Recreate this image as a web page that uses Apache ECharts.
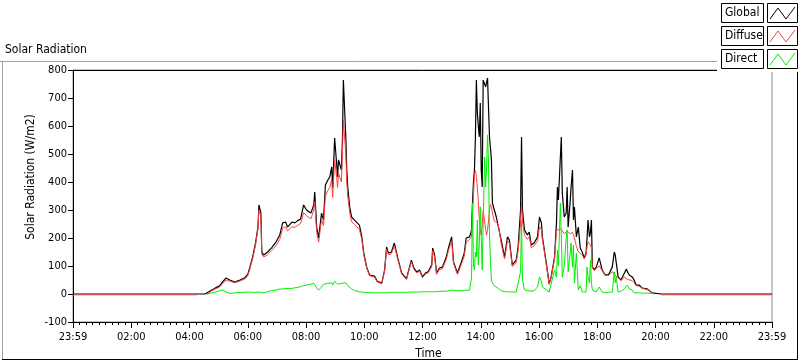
<!DOCTYPE html>
<html><head><meta charset="utf-8">
<script src="https://cdn.jsdelivr.net/npm/echarts@6/dist/echarts.min.js"></script>
<style>html,body{margin:0;padding:0;background:#fff}#c{width:800px;height:361px}</style>
</head><body><div id="c"></div>
<script>
const times = ["00:00","04:15","04:32","04:36","04:44","04:52","05:02","05:09","05:15","05:23","05:33","05:44","05:54","06:00","06:04","06:10","06:16","06:21","06:23","06:27","06:29","06:33","06:41","06:49","06:58","07:06","07:12","07:18","07:22","07:31","07:37","07:43","07:49","07:55","08:01","08:10","08:16","08:18","08:22","08:26","08:32","08:36","08:40","08:45","08:49","08:53","08:55","08:59","09:03","09:05","09:07","09:13","09:15","09:17","09:22","09:24","09:26","09:30","09:34","09:40","09:44","09:50","09:55","09:59","10:05","10:11","10:21","10:27","10:36","10:42","10:46","10:50","10:56","11:02","11:09","11:17","11:27","11:31","11:37","11:42","11:48","11:54","12:00","12:06","12:12","12:19","12:21","12:25","12:29","12:35","12:41","12:49","12:54","13:00","13:04","13:12","13:20","13:26","13:30","13:37","13:39","13:41","13:43","13:45","13:47","13:49","13:51","13:53","13:55","13:57","13:59","14:01","14:03","14:05","14:08","14:10","14:12","14:14","14:16","14:18","14:20","14:22","14:24","14:28","14:32","14:36","14:42","14:49","14:55","14:59","15:05","15:13","15:17","15:22","15:24","15:26","15:30","15:36","15:40","15:44","15:50","15:57","16:01","16:05","16:07","16:15","16:21","16:25","16:32","16:36","16:38","16:40","16:44","16:46","16:48","16:52","16:54","16:56","16:58","17:00","17:04","17:06","17:09","17:11","17:13","17:17","17:21","17:25","17:29","17:33","17:37","17:39","17:41","17:44","17:46","17:48","17:50","17:54","17:58","18:04","18:08","18:10","18:16","18:23","18:31","18:35","18:37","18:39","18:43","18:49","18:56","19:00","19:02","19:06","19:12","19:16","19:20","19:26","19:33","19:43","19:53","19:57","20:12","24:00"];
const globalVals = [0,0,0,2,12,20,29,45,57,50,43,50,58,70,93,132,182,239,318,289,150,139,150,165,185,211,254,257,239,257,254,262,268,318,300,289,318,364,239,200,289,264,389,407,418,454,379,557,468,418,479,443,550,764,561,443,382,311,275,264,271,246,204,146,96,68,64,45,39,86,168,146,150,182,129,75,54,61,121,93,79,86,61,75,80,104,164,139,75,93,96,132,168,204,114,75,114,146,200,204,215,229,325,400,443,560,764,646,600,561,682,443,382,764,757,740,746,771,764,561,520,479,325,300,275,275,193,132,204,193,104,121,168,300,561,300,229,211,221,175,182,204,275,254,204,111,36,61,132,254,382,336,489,561,361,275,280,289,382,239,325,380,443,264,311,204,239,164,150,129,146,200,264,204,220,264,96,86,96,129,136,86,68,68,96,150,140,146,61,50,75,89,80,68,61,50,32,32,21,18,4,0,0,0];
const diffuseVals = [-3,-3,null,0,10,17,25,38,50,46,40,46,54,65,88,125,175,232,300,280,140,132,140,155,172,195,235,240,225,240,238,245,252,290,280,268,300,330,220,185,265,245,350,370,380,410,345,480,420,380,430,400,500,620,500,400,350,290,258,248,252,230,195,140,92,65,61,43,37,82,160,140,144,172,124,72,52,58,115,89,75,82,58,71,76,98,155,132,70,88,90,124,158,190,108,70,105,135,185,195,200,205,290,350,430,440,420,380,330,270,230,210,250,300,260,230,210,230,260,300,320,310,290,260,255,250,180,125,190,182,98,112,155,250,325,260,210,195,205,165,172,190,240,230,195,105,34,58,125,225,229,229,235,230,225,215,215,220,225,220,215,215,220,210,200,170,150,145,140,125,140,170,186,180,175,165,92,84,92,100,96,84,66,66,80,70,68,66,58,48,60,55,52,50,48,40,30,28,20,16,4,null,-3,-3];
const directVals = [null,null,null,0,3,6,12,14,8,2,4,6,6,7,6,6,6,7,7,6,5,4,8,12,14,18,18,20,18,20,22,24,26,30,32,35,38,40,22,14,25,35,42,38,44,40,32,45,40,35,42,38,45,42,40,38,30,25,18,12,10,8,7,6,5,5,4,4,4,4,5,5,6,6,6,6,6,6,7,7,7,7,8,8,8,8,8,8,9,9,10,10,12,14,14,12,12,13,14,14,40,57,325,100,86,150,132,264,104,180,311,204,86,250,489,382,450,568,468,204,120,50,40,30,25,20,12,8,8,7,7,7,10,80,264,50,15,12,14,10,12,25,61,45,25,15,7,7,86,60,157,100,325,204,60,100,146,200,229,80,140,182,96,175,39,146,14,30,7,7,7,96,60,39,121,40,14,7,7,25,20,7,6,6,7,79,40,61,7,10,18,25,32,18,15,4,4,4,3,3,2,0,null,null];
const xTickLabels = ["23:59","02:00","04:00","06:00","08:00","10:00","12:00","14:00","16:00","18:00","20:00","22:00","23:59"];
const seriesNames = ["Global","Diffuse","Direct"];
const seriesColors = ["#000000","#ff4040","#00ee00"];

function toMin(t){const p=t.split(":");return (+p[0])*60+(+p[1]);}
function pairs(vals){return times.map((t,i)=>[toMin(t),vals[i]]);}

const FONT = 'Tahoma, "DejaVu Sans Condensed", "Noto Sans", sans-serif';
const chart = echarts.init(document.getElementById('c'), null, {renderer:'canvas'});

const legendGraphics = [];
seriesNames.forEach((n,i)=>{
  const y0 = 3 + i*23;
  legendGraphics.push({type:'rect',shape:{x:721.5,y:y0+0.5,width:42,height:19},style:{fill:'#fff',stroke:'#000',lineWidth:1},z:101});
  legendGraphics.push({type:'text',x:725,y:y0+10,style:{text:n,font:'12px '+FONT,fill:'#000',textVerticalAlign:'middle'},z:102});
  legendGraphics.push({type:'rect',shape:{x:767.5,y:y0+0.5,width:30,height:19},style:{fill:'#fff',stroke:'#000',lineWidth:1},z:101});
  legendGraphics.push({type:'polyline',shape:{points:[[770,y0+16],[778,y0+5],[786,y0+16],[795,y0+4]]},style:{stroke:seriesColors[i],lineWidth:1,fill:null},z:102});
});

const option = {
  backgroundColor:'#fff',
  animation:false,
  grid:{left:73,right:28,top:70,bottom:39,show:true,borderColor:'#8c8c8c',borderWidth:1,backgroundColor:'#fff',outerBoundsMode:'none',containLabel:false},
  xAxis:[{
    type:'value',min:0,max:1440,interval:120,
    name:'Time',nameLocation:'middle',nameGap:25,
    nameTextStyle:{fontFamily:FONT,fontSize:12,color:'#000',padding:[0,0,0,12]},
    axisLine:{show:true,onZero:false,lineStyle:{color:'#000',width:1}},
    axisTick:{show:true,length:6,lineStyle:{color:'#000',width:1}},
    minorTick:{show:true,splitNumber:9,length:3,lineStyle:{color:'#000',width:1}},
    axisLabel:{fontFamily:FONT,fontSize:11,color:'#000',margin:10,formatter:(v)=>xTickLabels[Math.round(v/120)]},
    splitLine:{show:false}
  },{
    type:'value',position:'top',min:0,max:1440,
    axisLine:{show:true,onZero:false,lineStyle:{color:'#000',width:1}},
    axisTick:{show:false},axisLabel:{show:false},splitLine:{show:false}
  }],
  yAxis:{
    type:'value',min:-100,max:800,interval:100,
    axisLine:{show:true,onZero:false,lineStyle:{color:'#000',width:1}},
    axisTick:{show:true,length:5,lineStyle:{color:'#000',width:1}},
    axisLabel:{fontFamily:FONT,fontSize:11,color:'#000',margin:6},
    splitLine:{show:false}
  },
  series: seriesNames.map((n,i)=>({
    name:n,type:'line',data:pairs([globalVals,diffuseVals,directVals][i]),
    showSymbol:false,symbol:'none',connectNulls:false,
    lineStyle:{color:seriesColors[i],width:i===0?1.2:1},z:2+i
  })),
  graphic:[
    {type:'line',shape:{x1:0,y1:61.5,x2:717,y2:61.5},style:{stroke:'#a0a0a0',lineWidth:1},z:50},
    {type:'line',shape:{x1:2.5,y1:61,x2:2.5,y2:359},style:{stroke:'#a0a0a0',lineWidth:1},z:50},
    {type:'line',shape:{x1:2,y1:359.5,x2:798,y2:359.5},style:{stroke:'#000',lineWidth:1},z:50},
    {type:'line',shape:{x1:797.5,y1:72,x2:797.5,y2:360},style:{stroke:'#000',lineWidth:1},z:50},
    {type:'text',x:5,y:50,style:{text:'Solar Radiation',font:'12px '+FONT,fill:'#000',textVerticalAlign:'middle'},z:50},
    {type:'text',x:31,y:177,rotation:Math.PI/2,style:{text:'Solar Radiation (W/m2)',font:'12px '+FONT,fill:'#000',textAlign:'center',textVerticalAlign:'middle'},z:50},
    {type:'rect',shape:{x:717,y:0,width:83,height:72},style:{fill:'#fff'},z:100}
  ].concat(legendGraphics)
};
chart.setOption(option);
</script></body></html>
